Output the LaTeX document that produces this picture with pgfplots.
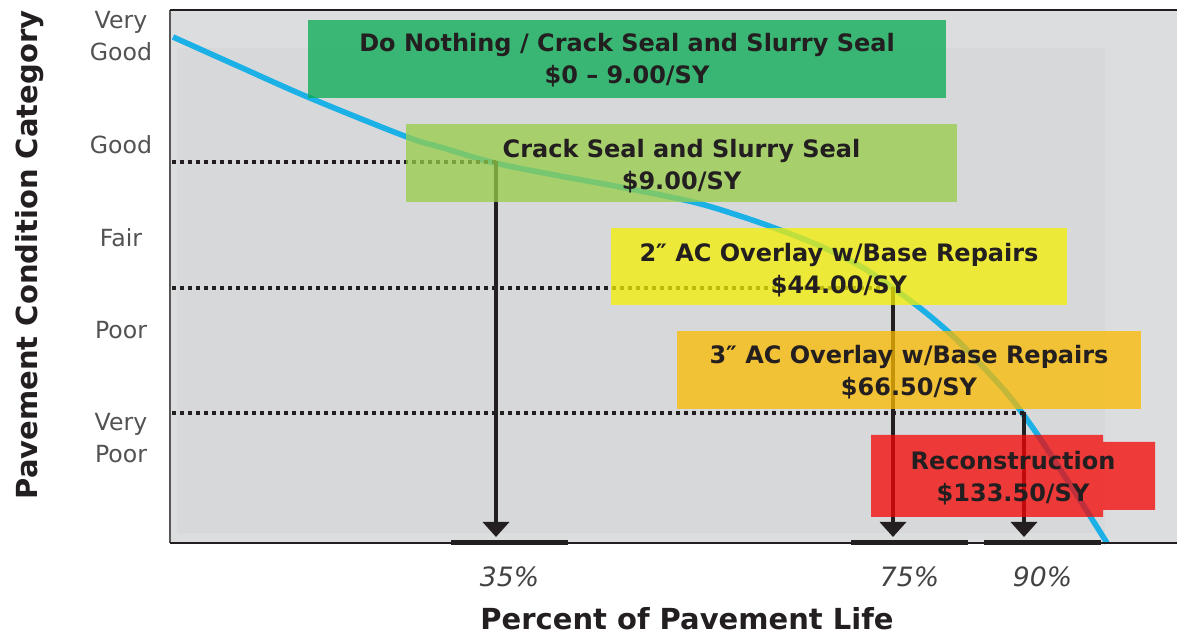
\documentclass[border=0pt]{standalone}
\usepackage{fontspec}
\setmainfont{DejaVu Sans}
\usepackage{pgfplots}
\pgfplotsset{compat=1.18}
\usetikzlibrary{arrows.meta}
\definecolor{bgout}{RGB}{220,221,223}
\definecolor{bgin}{RGB}{215,216,218}
\definecolor{curvec}{RGB}{27,177,230}
\definecolor{ink}{RGB}{35,31,32}
\definecolor{cA}{RGB}{5,171,81}
\definecolor{cB}{RGB}{151,206,73}
\definecolor{cC}{RGB}{245,239,4}
\definecolor{cD}{RGB}{251,186,0}
\definecolor{cE}{RGB}{246,4,4}
\begin{document}
\begin{tikzpicture}
\begin{axis}[
  scale only axis, width=503.5pt, height=266.5pt,
  xmin=170, xmax=1177, ymin=92, ymax=625,
  axis line style={draw=none},
  axis background/.style={fill=bgout},
  clip=false,
  major tick length=0pt,
  xtick={509.5,909.5,1042.5}, xticklabels={35\%,75\%,90\%},
  xticklabel style={font=\fontsize{13.3}{16}\selectfont\itshape, text=ink!85, anchor=center, yshift=-17pt},
  ytick={197,305,397,490,599},
  yticklabels={{Very\\Poor},Poor,Fair,Good,{Very\\Good}},
  yticklabel style={font=\fontsize{11.8}{16}\selectfont, text=black!68, align=center, anchor=center, xshift=-24.5pt},
  xlabel={Percent of Pavement Life},
  xlabel style={font=\fontsize{14.5}{17}\selectfont\bfseries, text=ink, inner sep=0pt, at={(axis description cs:0.5134,-0.1425)}, anchor=center},
  ylabel={Pavement Condition Category},
  ylabel style={font=\fontsize{14.5}{17}\selectfont\bfseries, text=ink, inner sep=0pt, at={(axis description cs:-0.139,0.5403)}, anchor=center, rotate=0},
]
\coordinate (pbl) at (axis cs:0,0);
\coordinate (ptr) at (axis cs:1177,635);
% inner lighter panel
\addplot[fill=bgin, draw=none] coordinates {(177,102) (1105,102) (1105,587) (177,587)};
% condition curve
\addplot[curvec, line width=2.8pt, smooth, tension=0.55] coordinates {
 (173,598) (240,568) (310,537) (407,498) (440,488) (495,472) (560,459) (620,448)
 (693,433) (740,419) (780,405) (820,389) (860,369) (893,347) (925,323) (955,297)
 (985,266) (1010,238) (1035,204) (1060,166) (1085,127) (1107,92)};
% dotted level lines
\addplot[ink, line width=2pt, dash pattern=on 2pt off 2pt] coordinates {(172,473) (496,473)};
\addplot[ink, line width=2pt, dash pattern=on 2pt off 2pt] coordinates {(172,347) (893,347)};
\addplot[ink, line width=2pt, dash pattern=on 2pt off 2pt] coordinates {(172,222) (1024,222)};
% arrows
\addplot[ink, line width=1.8pt, -{Triangle[width=13pt,length=7.5pt]}] coordinates {(496,474) (496,98)};
\addplot[ink, line width=1.8pt, -{Triangle[width=13pt,length=7.5pt]}] coordinates {(893,348) (893,98)};
\addplot[ink, line width=1.8pt, -{Triangle[width=13pt,length=7.5pt]}] coordinates {(1024,223) (1024,98)};
% treatment boxes
\addplot[fill=cA, draw=none, fill opacity=0.75] coordinates {(308,537) (946,537) (946,615) (308,615)};
\addplot[fill=cB, draw=none, fill opacity=0.75] coordinates {(406,433) (957,433) (957,511) (406,511)};
\addplot[fill=cC, draw=none, fill opacity=0.75] coordinates {(611,330) (1067,330) (1067,407) (611,407)};
\addplot[fill=cD, draw=none, fill opacity=0.75] coordinates {(677,226) (1141,226) (1141,304) (677,304)};
\addplot[fill=cE, draw=none, fill opacity=0.75] coordinates {(871,200) (1103,200) (1103,193) (1155,193) (1155,125) (1103,125) (1103,118) (871,118)};
% box texts
\begin{scope}[every node/.style={font=\fontsize{12}{16}\selectfont\bfseries, text=ink, align=center, anchor=center, inner sep=0pt}]
\node at (axis cs:627,575) {Do Nothing / Crack Seal and Slurry Seal\\\$0 -- 9.00/SY};
\node at (axis cs:681.5,468.5) {Crack Seal and Slurry Seal\\\$9.00/SY};
\node at (axis cs:839,365) {2″ AC Overlay w/Base Repairs\\\$44.00/SY};
\node at (axis cs:909,262.5) {3″ AC Overlay w/Base Repairs\\\$66.50/SY};
\node at (axis cs:1013,156.5) {Reconstruction\\\$133.50/SY};
\end{scope}
% percent bars
\addplot[ink, line width=2.5pt] coordinates {(451,92) (568,92)};
\addplot[ink, line width=2.5pt] coordinates {(851,92) (968,92)};
\addplot[ink, line width=2.5pt] coordinates {(984,92) (1101,92)};
% frame
\draw[ink!75, line width=0.7pt] (axis cs:170,92) -- (axis cs:170,625);
\draw[ink, line width=0.75pt] (axis cs:170,625) -- (axis cs:1177,625);
\draw[ink, line width=0.7pt] (axis cs:170,92) -- (axis cs:1177,92);
\end{axis}
\pgfresetboundingbox
\path[use as bounding box] (pbl) rectangle (ptr);
\end{tikzpicture}
\end{document}
